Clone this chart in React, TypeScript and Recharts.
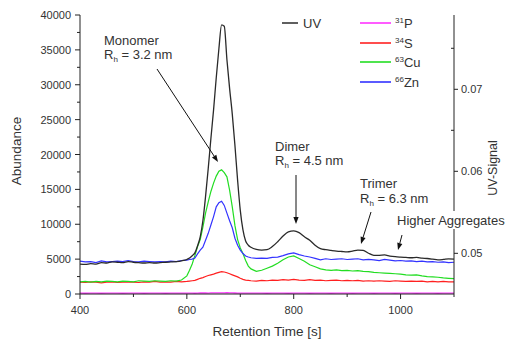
import React from 'react';
import { ComposedChart, Line, XAxis, YAxis } from 'recharts';

// retention time grid [s]
const times = [
  400, 410, 420, 430, 440, 450, 460, 470, 480, 490, 500, 510, 520, 530, 540, 550, 560, 570, 580, 590,
  600, 605, 610, 615, 620, 625, 630, 635, 640, 645, 650, 655, 660, 665, 670, 675, 680, 685, 690, 695, 700, 705, 710, 715,
  720, 730, 740, 750, 760, 770, 780, 790, 800, 810, 820, 830, 840, 850, 860, 870, 880, 890, 900, 910,
  920, 930, 940, 950, 960, 970, 980, 990, 1000, 1010, 1020, 1030, 1040, 1050, 1060, 1070, 1080, 1090, 1100,
];

// UV signal (right axis)
const uvSignal = [
  0.04869, 0.04865, 0.04874, 0.04869, 0.04886, 0.04882, 0.04895, 0.04891, 0.04886, 0.04899,
  0.04891, 0.04886, 0.04882, 0.04886, 0.04882, 0.04886, 0.04891, 0.04895, 0.04899, 0.04908,
  0.04925, 0.04942, 0.04971, 0.05005, 0.05091, 0.05201, 0.05397, 0.05694, 0.06034, 0.064,
  0.06749, 0.0714, 0.07497, 0.07786, 0.07769, 0.07361, 0.07012, 0.06698, 0.06315, 0.0589,
  0.05524, 0.05286, 0.0515, 0.05099,
  0.05074, 0.05048, 0.0504, 0.05044, 0.05082, 0.05141, 0.0521, 0.05261, 0.05273, 0.05252,
  0.05201, 0.05159, 0.05099, 0.05056, 0.05044, 0.05035, 0.05027, 0.05022, 0.05018, 0.05027,
  0.0504, 0.05035, 0.05001, 0.04976, 0.04976, 0.0498, 0.04967, 0.04959, 0.04954, 0.0495,
  0.04946, 0.0495, 0.04942, 0.04937, 0.04929, 0.0492, 0.04925, 0.04933, 0.04929,
];

// ICP-MS abundances
const p31 = [
  120, 110, 130, 120, 110, 120, 130, 120, 110, 120, 130, 120, 110, 120, 130, 120, 110, 120, 130, 120,
  120, 130, 120, 110, 130, 140, 150, 140, 130, 150, 160, 170, 160, 150, 170, 180, 160, 150, 140, 130, 130, 120, 130, 120,
  120, 130, 120, 110, 120, 130, 120, 110, 120, 130, 120, 110, 120, 130, 120, 110, 120, 130, 120, 110,
  120, 130, 120, 110, 120, 130, 120, 110, 120, 130, 120, 110, 120, 130, 120, 110, 120, 130, 120,
];

const s34 = [
  1700, 1650, 1750, 1700, 1600, 1700, 1750, 1650, 1700, 1750, 1700, 1650, 1750, 1700, 1800, 1700, 1750, 1700, 1800, 1750,
  1800, 1850, 1900, 1950, 2100, 2250, 2350, 2500, 2650, 2750, 2850, 3000, 3100, 3200, 3150, 3050, 2900, 2750, 2600, 2450, 2250, 2100, 2000, 1950,
  1900, 1850, 1950, 1900, 2000, 1950, 2050, 2000, 2100, 2000, 1950, 2050, 1950, 2000, 1900, 1950, 2000, 1900, 1950, 1900,
  1950, 1850, 1900, 1850, 1900, 1850, 1800, 1900, 1850, 1800, 1850, 1800, 1850, 1750, 1800, 1750, 1800, 1750, 1750,
];

const cu63 = [
  1750, 1800, 1700, 1800, 1750, 1850, 1800, 1750, 1850, 1800, 1750, 1900, 1850, 1800, 1900, 1850, 1800, 1900, 1850, 2000,
  2600, 3400, 4300, 5500, 6800, 7800, 9600, 11600, 13200, 14700, 15900, 16900, 17600, 17800, 17400, 16800, 14900, 12500, 9800, 7800, 6600, 5800, 4800, 4000,
  3600, 3250, 3400, 3700, 4000, 4400, 4900, 5300, 5450, 5100, 4700, 4200, 3900, 3600, 3450, 3400, 3450, 3350, 3400, 3300,
  3350, 3250, 3200, 3100, 3050, 3000, 2950, 2900, 2850, 2750, 2700, 2750, 2600, 2500, 2450, 2400, 2300, 2250, 2200,
];

const zn66 = [
  4700, 4600, 4650, 4500, 4750, 4600, 4650, 4700, 4650, 4800, 4650, 4600, 4700, 4650, 4600, 4650, 4600, 4700, 4650, 4800,
  4850, 4950, 5000, 5150, 5750, 6300, 6700, 7700, 8700, 9900, 11100, 12500, 13100, 13300, 12700, 11600, 10500, 9500, 8000, 7000, 6300, 5800, 5450, 5300,
  5200, 5100, 5150, 5100, 5250, 5300, 5500, 5750, 5900, 5650, 5450, 5300, 5100, 4900, 5050, 4950, 5000, 5050, 4950, 5000,
  5050, 4900, 4950, 4900, 4800, 4950, 4850, 4750, 4800, 4700, 4750, 4650, 4700, 4600, 4650, 4550, 4600, 4500, 4550,
];

const leftTicks = [0, 2500, 5000, 7500, 10000, 12500, 15000, 17500, 20000, 22500, 25000, 27500, 30000, 32500, 35000, 37500, 40000];
const bottomTicks = [400, 500, 600, 700, 800, 900, 1000, 1100];
const rightTicks = [0.05, 0.055, 0.06, 0.065, 0.07, 0.075];

const data = times.map((t, i) => ({
  t,
  uv: uvSignal[i],
  p: p31[i],
  s: s34[i],
  cu: cu63[i],
  zn: zn66[i],
}));

const FONT = 'Liberation Sans, Arial, sans-serif';
const AXIS = '#222';
const TXT = '#333';

function LeftTick(props: any) {
  const { x, y, payload } = props;
  const major = payload.value % 5000 === 0;
  return (
    <g>
      <line x1={x - (major ? 5 : 3)} x2={x} y1={y} y2={y} stroke={AXIS} strokeWidth={1} />
      {major && (
        <text x={x - 9} y={y} dy={4} textAnchor="end" fontSize={11} fontFamily={FONT} fill={TXT}>
          {payload.value}
        </text>
      )}
    </g>
  );
}

function BottomTick(props: any) {
  const { x, y, payload } = props;
  const major = payload.value % 200 === 0;
  return (
    <g>
      <line x1={x} x2={x} y1={y} y2={y + (major ? 5 : 3)} stroke={AXIS} strokeWidth={1} />
      {major && (
        <text x={x} y={y + 20} textAnchor="middle" fontSize={11} fontFamily={FONT} fill={TXT}>
          {payload.value}
        </text>
      )}
    </g>
  );
}

function RightTick(props: any) {
  const { x, y, payload } = props;
  const major = Math.round(payload.value * 1000) % 10 === 0;
  return (
    <g>
      {major ? (
        <line x1={x} x2={x + 4} y1={y} y2={y} stroke={AXIS} strokeWidth={1} />
      ) : (
        <line x1={x - 3} x2={x} y1={y} y2={y} stroke={AXIS} strokeWidth={1} />
      )}
      {major && (
        <text x={x + 7} y={y} dy={4} textAnchor="start" fontSize={11} fontFamily={FONT} fill={TXT}>
          {payload.value.toFixed(2)}
        </text>
      )}
    </g>
  );
}

function Arrow({ x1, y1, x2, y2 }: { x1: number; y1: number; x2: number; y2: number }) {
  const a = Math.atan2(y2 - y1, x2 - x1);
  const len = 7;
  const w = 2.6;
  const bx = x2 - len * Math.cos(a);
  const by = y2 - len * Math.sin(a);
  const px = -Math.sin(a) * w;
  const py = Math.cos(a) * w;
  return (
    <g>
      <line x1={x1} y1={y1} x2={bx} y2={by} stroke="#111" strokeWidth={1} />
      <polygon points={`${x2},${y2} ${bx + px},${by + py} ${bx - px},${by - py}`} fill="#111" />
    </g>
  );
}

function Rh({ x, y, value }: { x: number; y: number; value: string }) {
  return (
    <text x={x} y={y} fontSize={13} fontFamily={FONT} fill={TXT}>
      R<tspan fontSize={8} dy={3}>h</tspan>
      <tspan dy={-3}>{` = ${value}`}</tspan>
    </text>
  );
}

const legendItems = [
  { label: 'P', iso: '31', color: '#ff33ff' },
  { label: 'S', iso: '34', color: '#ff2020' },
  { label: 'Cu', iso: '63', color: '#22dd22' },
  { label: 'Zn', iso: '66', color: '#3333ff' },
];
const legendRows = [23, 43, 62, 82];

export default function App() {
  return (
    <div style={{ position: 'absolute', left: 0, top: 0, width: 511, height: 340, background: '#fff' }}>
      <ComposedChart width={511} height={340} data={data} margin={{ top: 15, right: 0, bottom: 0, left: 0 }}>
        <XAxis
          dataKey="t"
          type="number"
          domain={[400, 1100]}
          ticks={bottomTicks}
          interval={0}
          height={46}
          tickSize={0}
          tickMargin={0}
          tickLine={false}
          axisLine={{ stroke: AXIS }}
          tick={<BottomTick />}
        />
        <YAxis
          yAxisId="left"
          domain={[0, 40000]}
          ticks={leftTicks}
          interval={0}
          width={80}
          tickSize={0}
          tickMargin={0}
          tickLine={false}
          axisLine={{ stroke: AXIS }}
          tick={<LeftTick />}
        />
        <YAxis
          yAxisId="right"
          orientation="right"
          domain={[0.04504, 0.07906]}
          ticks={rightTicks}
          interval={0}
          width={57}
          tickSize={0}
          tickMargin={0}
          tickLine={false}
          axisLine={{ stroke: AXIS }}
          tick={<RightTick />}
        />
        <Line yAxisId="left" dataKey="p" type="linear" stroke="#ff33ff" strokeWidth={1.3} dot={false} isAnimationActive={false} />
        <Line yAxisId="left" dataKey="s" type="linear" stroke="#ff2020" strokeWidth={1.2} dot={false} isAnimationActive={false} />
        <Line yAxisId="left" dataKey="cu" type="linear" stroke="#22dd22" strokeWidth={1.2} dot={false} isAnimationActive={false} />
        <Line yAxisId="left" dataKey="zn" type="linear" stroke="#3333ff" strokeWidth={1.2} dot={false} isAnimationActive={false} />
        <Line yAxisId="right" dataKey="uv" type="monotone" stroke="#2a2a2a" strokeWidth={1.3} dot={false} isAnimationActive={false} />
      </ComposedChart>

      <svg
        width={511}
        height={340}
        style={{ position: 'absolute', left: 0, top: 0, pointerEvents: 'none' }}
      >
        {/* axis titles */}
        <text
          x={0}
          y={0}
          transform="translate(21,151) rotate(-90)"
          textAnchor="middle"
          fontSize={13.5}
          fontFamily={FONT}
          fill={TXT}
        >
          Abundance
        </text>
        <text x={267} y={336} textAnchor="middle" fontSize={13.5} fontFamily={FONT} fill={TXT}>
          Retention Time [s]
        </text>
        <text
          x={0}
          y={0}
          transform="translate(497,168) rotate(-90)"
          textAnchor="middle"
          fontSize={12.5}
          fontFamily={FONT}
          fill={TXT}
        >
          UV-Signal
        </text>

        {/* legend */}
        <line x1={282} x2={298} y1={23} y2={23} stroke="#2a2a2a" strokeWidth={1.5} />
        <text x={303} y={28} fontSize={13} fontFamily={FONT} fill={TXT}>UV</text>
        {legendItems.map((it, i) => {
          const y = legendRows[i];
          return (
            <g key={it.label}>
              <line x1={360} x2={391} y1={y} y2={y} stroke={it.color} strokeWidth={1.6} />
              <text x={395} y={y + 5} fontSize={13} fontFamily={FONT} fill={TXT}>
                <tspan fontSize={8} dy={-5}>{it.iso}</tspan>
                <tspan dy={5}>{it.label}</tspan>
              </text>
            </g>
          );
        })}

        {/* annotations */}
        <text x={104} y={45} fontSize={13} fontFamily={FONT} fill={TXT}>Monomer</text>
        <Rh x={104} y={59} value="3.2 nm" />
        <Arrow x1={157} y1={69} x2={218} y2={162} />

        <text x={275} y={151} fontSize={13} fontFamily={FONT} fill={TXT}>Dimer</text>
        <Rh x={275} y={165} value="4.5 nm" />
        <Arrow x1={296} y1={175} x2={296} y2={224} />

        <text x={360} y={188} fontSize={13} fontFamily={FONT} fill={TXT}>Trimer</text>
        <Rh x={360} y={203} value="6.3 nm" />
        <Arrow x1={371} y1={212} x2={361} y2={244} />

        <rect x={396} y={211} width={115} height={18} fill="#fff" />
        <text x={397} y={225} fontSize={13} fontFamily={FONT} fill={TXT}>Higher Aggregates</text>
        <Arrow x1={402} y1={235} x2={398} y2={250} />
      </svg>
    </div>
  );
}
